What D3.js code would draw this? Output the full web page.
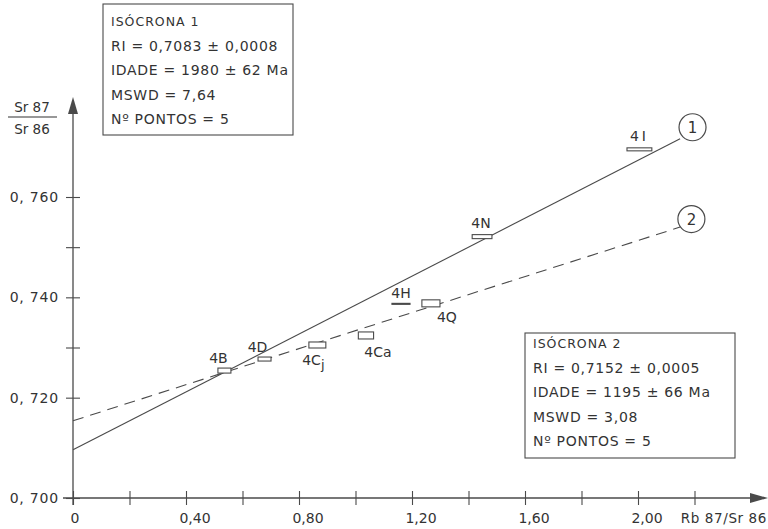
<!DOCTYPE html>
<html>
<head>
<meta charset="utf-8">
<script src="https://cdn.jsdelivr.net/npm/d3@7"></script>
<style>
body { margin: 0; background: #fff; }
svg { display: block; font-family: "DejaVu Sans", sans-serif; }
</style>
</head>
<body>
<script>
// amostras: Rb87/Sr86, Sr87/Sr86 e meia-largura das caixas de erro
var samples = ["4B", "4D", "4C", "4Ca", "4H", "4Q", "4N", "4I"];
var rbsr = [0.536, 0.678, 0.865, 1.037, 1.161, 1.267, 1.448, 2.005];
var srsr = [0.7254, 0.7277, 0.7305, 0.7324, 0.7387, 0.7388, 0.7521, 0.7695];
var rbErr = [0.023, 0.023, 0.030, 0.027, 0.032, 0.032, 0.035, 0.044];
var srErr = [0.0005, 0.0004, 0.0006, 0.0007, 0.0001, 0.0007, 0.0004, 0.0003];

// retas das isocronas, do eixo ate o circulo
var iso1 = [[0, 0.7096], [2.149, 0.7716]];
var iso2 = [[0, 0.7154], [2.149, 0.7540]];
var isoNames = ["1", "2"];
var isoX = [2.193, 2.189];
var isoY = [0.7739, 0.7556];

var xTicks = [0, 0.2, 0.4, 0.6, 0.8, 1.0, 1.2, 1.4, 1.6, 1.8, 2.0, 2.2];
var xLabels = [0, 0.4, 0.8, 1.2, 1.6, 2.0];
var yTicks = [0.700, 0.720, 0.730, 0.740, 0.750, 0.760];
var yLabels = [0.700, 0.720, 0.740, 0.760];

var box1 = ["ISÓCRONA  1", "RI = 0,7083 ± 0,0008", "IDADE = 1980 ± 62 Ma", "MSWD = 7,64", "Nº PONTOS = 5"];
var box2 = ["ISÓCRONA  2", "RI = 0,7152 ± 0,0005", "IDADE = 1195 ± 66 Ma", "MSWD = 3,08", "Nº PONTOS = 5"];

// deslocamento dos rotulos das amostras (px)
var labelOff = [[-6, -8], [-7, -7], [-4, 20], [12, 22], [0, -6], [16, 19], [-1, -9], [0, -8]];

var ink = "#333", line = "#4a4a4a";

var svg = d3.select("body").append("svg")
    .attr("width", 768)
    .attr("height", 529);

var x = d3.scaleLinear().domain([0, 2.2]).range([73, 694.5]),
    y = d3.scaleLinear().domain([0.70, 0.76]).range([498, 197]);

// eixo x
svg.append("line")
    .attr("x1", x(0) - 10).attr("x2", 756)
    .attr("y1", y(0.70)).attr("y2", y(0.70))
    .attr("stroke", line).attr("stroke-width", 1.3);
svg.append("path")
    .attr("d", "M768," + y(0.70) + "L750," + (y(0.70) - 5) + "L750," + (y(0.70) + 5) + "Z")
    .attr("fill", line);

var gx = svg.append("g")
    .attr("transform", "translate(0," + y(0.70) + ")")
    .call(d3.axisBottom(x).tickValues(xTicks).tickSize(7).tickFormat(""));
gx.select(".domain").remove();
gx.selectAll(".tick line").attr("y1", -7).attr("stroke", line).attr("stroke-width", 1.1);

svg.selectAll(".xlab")
    .data(xLabels)
    .enter().append("text")
    .attr("class", "xlab")
    .attr("x", function (d) { return x(d) + (d === 0 ? 2 : 9); })
    .attr("y", 523)
    .attr("text-anchor", "middle")
    .attr("font-size", 14)
    .attr("fill", ink)
    .text(function (d) { return d === 0 ? "0" : d3.format(".2f")(d).replace(".", ","); });

svg.append("text")
    .attr("x", 767).attr("y", 523)
    .attr("text-anchor", "end")
    .attr("font-size", 13.5)
    .attr("letter-spacing", 0.6)
    .attr("fill", ink)
    .text("Rb 87/Sr 86");

// eixo y
svg.append("line")
    .attr("x1", x(0)).attr("x2", x(0))
    .attr("y1", y(0.70) + 7).attr("y2", 108)
    .attr("stroke", line).attr("stroke-width", 1.3);
svg.append("path")
    .attr("d", "M" + x(0) + ",97L" + (x(0) - 5) + ",114L" + (x(0) + 5) + ",114Z")
    .attr("fill", line);

var gy = svg.append("g")
    .attr("transform", "translate(" + x(0) + ",0)")
    .call(d3.axisLeft(y).tickValues(yTicks).tickSize(7).tickFormat(""));
gy.select(".domain").remove();
gy.selectAll(".tick line").attr("x1", 7).attr("stroke", line).attr("stroke-width", 1.1);

svg.selectAll(".ylab")
    .data(yLabels)
    .enter().append("text")
    .attr("class", "ylab")
    .attr("x", 59)
    .attr("y", function (d) { return y(d) + 5; })
    .attr("text-anchor", "end")
    .attr("font-size", 14)
    .attr("letter-spacing", 0.8)
    .attr("fill", ink)
    .text(function (d) { return d3.format(".3f")(d).replace(".", ", "); });

svg.append("text").attr("x", 32).attr("y", 112).attr("text-anchor", "middle")
    .attr("font-size", 13.5).attr("fill", ink).text("Sr 87");
svg.append("line").attr("x1", 8).attr("x2", 57).attr("y1", 117).attr("y2", 117)
    .attr("stroke", ink).attr("stroke-width", 1.2);
svg.append("text").attr("x", 32).attr("y", 134).attr("text-anchor", "middle")
    .attr("font-size", 13.5).attr("fill", ink).text("Sr 86");

// isocronas
var path = d3.line().x(function (d) { return x(d[0]); }).y(function (d) { return y(d[1]); });

svg.append("path").attr("d", path(iso1))
    .attr("fill", "none").attr("stroke", line).attr("stroke-width", 1.1);
svg.append("path").attr("d", path(iso2))
    .attr("fill", "none").attr("stroke", line).attr("stroke-width", 1.1)
    .attr("stroke-dasharray", "11,7");

var marks = svg.selectAll(".iso")
    .data(isoNames)
    .enter().append("g")
    .attr("class", "iso")
    .attr("transform", function (d, i) { return "translate(" + x(isoX[i]) + "," + y(isoY[i]) + ")"; });
marks.append("circle").attr("r", 13.5)
    .attr("fill", "#fff").attr("stroke", line).attr("stroke-width", 1.2);
marks.append("text").attr("y", 5.5).attr("text-anchor", "middle")
    .attr("font-size", 15).attr("fill", ink)
    .text(function (d) { return d; });

// caixas de erro das amostras
svg.selectAll(".pt")
    .data(samples)
    .enter().append("rect")
    .attr("class", "pt")
    .attr("x", function (d, i) { return x(rbsr[i] - rbErr[i]); })
    .attr("y", function (d, i) { return y(srsr[i] + srErr[i]); })
    .attr("width", function (d, i) { return x(rbsr[i] + rbErr[i]) - x(rbsr[i] - rbErr[i]); })
    .attr("height", function (d, i) { return y(srsr[i] - srErr[i]) - y(srsr[i] + srErr[i]); })
    .attr("fill", "#fff")
    .attr("stroke", line)
    .attr("stroke-width", 1.1);

var labs = svg.selectAll(".ptlab")
    .data(samples)
    .enter().append("text")
    .attr("class", "ptlab")
    .attr("x", function (d, i) { return x(rbsr[i]) + labelOff[i][0]; })
    .attr("y", function (d, i) { return y(srsr[i]) + labelOff[i][1]; })
    .attr("text-anchor", "middle")
    .attr("font-size", 14)
    .attr("letter-spacing", function (d) { return d === "4I" ? 3 : 0; })
    .attr("fill", ink)
    .text(function (d) { return d; });
labs.filter(function (d) { return d === "4C"; })
    .append("tspan").attr("dy", 4).attr("font-size", 13).text("j");

// quadros das isocronas
function quadro(lines, x0, y0, w, h, base) {
    svg.append("rect")
        .attr("x", x0).attr("y", y0).attr("width", w).attr("height", h)
        .attr("fill", "#fff").attr("stroke", line).attr("stroke-width", 1.1);
    svg.selectAll(null)
        .data(lines)
        .enter().append("text")
        .attr("x", x0 + 8)
        .attr("y", function (d, i) { return base + i * 24.5; })
        .attr("font-size", function (d, i) { return i === 0 ? 12.5 : 14; })
        .attr("letter-spacing", function (d, i) { return i === 0 ? 1 : 0.7; })
        .attr("fill", ink)
        .text(function (d) { return d; });
}
quadro(box1, 103, 4, 190, 131, 26);
quadro(box2, 525, 333, 210, 125, 348);
</script>
</body>
